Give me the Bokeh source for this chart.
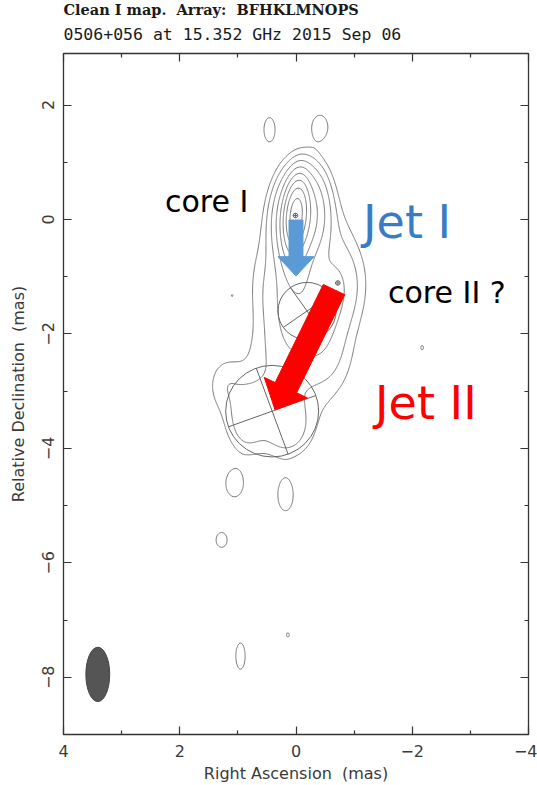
import numpy as np
from bokeh.plotting import figure
from bokeh.models import LinearAxis, FixedTicker, Label, Range1d, Title
from bokeh.embed import file_html
from bokeh.resources import INLINE

# ---------------------------------------------------------------- axes
ra_range = (4.0, -4.0)
dec_range = (-9.0, 2.9)
ra_major = [4, 2, 0, -2, -4]
ra_minor = [3, 1, -1, -3]
dec_major = [2, 0, -2, -4, -6, -8]
dec_minor = [1, -1, -3, -5, -7]
ra_tick_labels = ["4", "2", "0", "\u22122", "\u22124"]
dec_tick_labels = ["2", "0", "\u22122", "\u22124", "\u22126", "\u22128"]

# ---------------------------------------------------------------- restoring beam (mas)
beam_x, beam_y = 3.41, -7.95
beam_fwhm_ra, beam_fwhm_dec = 0.41, 0.95

# ---------------------------------------------------------------- brightness features
# beam-convolved elliptical Gaussians, amplitude as fraction of map peak,
# tilt in degrees (positive leans the top towards negative RA)
feat_name = ["core", "core wing", "core halo", "inner jet", "jet west", "knot NE",
             "C2", "bridge", "bridge NE", "C3 base", "C3 east", "C3 west", "lobe east"]
feat_x   = [0.00, -0.08, -0.50, 0.00, 0.38, -0.72, -0.20, 0.05, -0.55, 0.40, 0.85, 0.15, 1.22]
feat_y   = [0.07, 0.07, -0.20, -0.65, -1.00, -1.05, -1.60, -2.30, -2.50, -3.25, -3.55, -3.70, -2.85]
feat_amp = [0.85, 0.15, 0.006, 0.050, 0.008, 0.015, 0.030, 0.008, 0.006, 0.012, 0.010, 0.010, 0.006]
feat_sx  = [0.10, 0.24, 0.30, 0.16, 0.30, 0.30, 0.40, 0.50, 0.30, 0.55, 0.20, 0.25, 0.20]
feat_sy  = [0.30, 0.45, 0.40, 0.38, 0.60, 0.50, 0.50, 0.40, 0.45, 0.50, 0.35, 0.30, 0.30]
feat_tilt = [5.0, 4.0, 0.0, 0.0, 0.0, 0.0, 0.0, 0.0, 0.0, 0.0, 0.0, 0.0, 0.0]

# isolated low-level islands (noise peaks)
isl_x  = [0.456, -0.413, 1.058, 0.180, 1.280, 0.955, 0.140, -2.170, 1.100]
isl_y  = [1.570, 1.620, -4.620, -4.820, -5.600, -7.630, -7.260, -2.240, -1.330]
isl_amp = [0.0082, 0.0078, 0.0082, 0.0082, 0.0082, 0.0082, 0.0056, 0.0056, 0.0052]
isl_sx = [0.095, 0.14, 0.146, 0.13, 0.095, 0.08, 0.05, 0.05, 0.03]
isl_sy = [0.21, 0.21, 0.225, 0.27, 0.13, 0.23, 0.08, 0.08, 0.03]

contour_levels = [0.005, 0.01, 0.02, 0.04, 0.08, 0.16, 0.32, 0.64]

# ---------------------------------------------------------------- model-fit components
comp_x = [0.01, -0.72, -0.19, 0.41]
comp_y = [0.07, -1.11, -1.60, -3.35]
comp_fwhm = [0.08, 0.08, 1.00, 1.60]
comp_pa = [0.0, 0.0, 35.0, 20.0]  # orientation of the cross, degrees

# ---------------------------------------------------------------- annotation arrows
# (tail x, tail y, tip x, tip y, shaft half-width, head half-width, head length)
blue_arrow = (0.0, -0.01, 0.0, -0.99, 0.12, 0.31, 0.34)
red_arrow = (-0.654, -1.225, 0.361, -3.327, 0.205, 0.413, 0.43)

# ---------------------------------------------------------------- labels
notes = ["core I", "Jet I", "core II ?", "Jet II"]
note_x = [2.255, -1.153, -1.583, -1.36]
note_y = [0.306, -0.04, -1.285, -3.206]
note_color = ["#000000", "#3a7cc4", "#000000", "#ff0000"]
note_size = ["30px", "46px", "30px", "46px"]

title_line_1 = "Clean I map.\u00a0 Array:\u00a0 BFHKLMNOPS"
title_line_2 = "0506+056 at 15.352 GHz 2015 Sep 06"
ra_label = "Right Ascension\u00a0 (mas)"
dec_label = "Relative Declination\u00a0 (mas)"

# ---------------------------------------------------------------- figure
p = figure(width=537, height=785, output_backend="svg", toolbar_location=None,
           x_range=Range1d(*ra_range), y_range=Range1d(*dec_range),
           min_border_left=63, min_border_right=9, min_border_top=53,
           min_border_bottom=44, background_fill_color="white",
           border_fill_color="white")
p.grid.visible = False
p.outline_line_color = "#333333"
p.outline_line_width = 1.3

axis_color = "#333333"
tick_style = dict(major_tick_in=8, major_tick_out=0, minor_tick_in=4, minor_tick_out=0,
                  major_tick_line_color=axis_color, minor_tick_line_color=axis_color,
                  axis_line_color=axis_color, major_tick_line_width=1.2,
                  minor_tick_line_width=1.2)

xa = p.xaxis[0]
xa.ticker = FixedTicker(ticks=ra_major, minor_ticks=ra_minor)
xa.major_label_overrides = dict(zip(ra_major, ra_tick_labels))
xa.axis_label = ra_label
for k, v in tick_style.items():
    setattr(xa, k, v)
xa.major_label_text_font = "DejaVu Sans"
xa.major_label_text_font_size = "16px"
xa.major_label_text_color = "#3a3a3a"
xa.major_label_standoff = 10
xa.axis_label_text_font = "DejaVu Sans"
xa.axis_label_text_font_size = "16px"
xa.axis_label_text_font_style = "normal"
xa.axis_label_text_color = "#3a3a3a"
xa.axis_label_standoff = 4

ya = p.yaxis[0]
ya.ticker = FixedTicker(ticks=dec_major, minor_ticks=dec_minor)
ya.major_label_overrides = dict(zip(dec_major, dec_tick_labels))
ya.axis_label = dec_label
for k, v in tick_style.items():
    setattr(ya, k, v)
ya.major_label_orientation = "vertical"
ya.major_label_text_font = "DejaVu Sans"
ya.major_label_text_font_size = "16px"
ya.major_label_text_color = "#3a3a3a"
ya.major_label_standoff = 9
ya.axis_label_text_font = "DejaVu Sans"
ya.axis_label_text_font_size = "16px"
ya.axis_label_text_font_style = "normal"
ya.axis_label_text_color = "#3a3a3a"
ya.axis_label_standoff = 12

# tick marks along the top and right edges of the frame (no labels)
top_axis = LinearAxis(ticker=FixedTicker(ticks=ra_major, minor_ticks=ra_minor),
                      major_label_text_font_size="0px", major_label_standoff=0, **tick_style)
right_axis = LinearAxis(ticker=FixedTicker(ticks=dec_major, minor_ticks=dec_minor),
                        major_label_text_font_size="0px", major_label_standoff=0, **tick_style)
p.add_layout(top_axis, "above")
p.add_layout(right_axis, "right")

# header: second line just above the frame, first line on top
p.add_layout(Title(text=title_line_2, align="left", text_font="DejaVu Sans Mono",
                   text_font_style="normal", text_font_size="16.5px",
                   text_color="#1a1a1a", standoff=20), "above")
p.title.text = title_line_1
p.title.align = "left"
p.title.text_font = "DejaVu Serif"
p.title.text_font_size = "14.5px"
p.title.text_font_style = "bold"
p.title.text_color = "#1a1a1a"
p.title.standoff = -11

# ---------------------------------------------------------------- brightness map + contours
gx = np.linspace(ra_range[1], ra_range[0], 481)
gy = np.linspace(dec_range[0], dec_range[1], 715)
X, Y = np.meshgrid(gx, gy)
Z = np.zeros_like(X)
all_x = feat_x + isl_x
all_y = feat_y + isl_y
all_a = feat_amp + isl_amp
all_sx = feat_sx + isl_sx
all_sy = feat_sy + isl_sy
all_t = feat_tilt + [0.0] * len(isl_x)
for fx, fy, a, sx, sy, tilt in zip(all_x, all_y, all_a, all_sx, all_sy, all_t):
    t = np.deg2rad(tilt)
    dx, dy = X - fx, Y - fy
    u = dx * np.cos(t) + dy * np.sin(t)
    v = -dx * np.sin(t) + dy * np.cos(t)
    Z += a * np.exp(-0.5 * ((u / sx) ** 2 + (v / sy) ** 2))

p.contour(gx, gy, Z, levels=contour_levels, line_color="#777777", line_width=1.0)

# model-fit component circles with crosses
p.ellipse(x=comp_x, y=comp_y, width=comp_fwhm, height=comp_fwhm, fill_color=None,
          line_color="#666666", line_width=1.0)
sx0, sy0, sx1, sy1 = [], [], [], []
for cx, cy, fw, pa in zip(comp_x, comp_y, comp_fwhm, comp_pa):
    r = fw / 2.0
    t = np.deg2rad(pa)
    for ux, uy in ((np.sin(t), np.cos(t)), (np.cos(t), -np.sin(t))):
        sx0.append(cx - r * ux); sy0.append(cy - r * uy)
        sx1.append(cx + r * ux); sy1.append(cy + r * uy)
p.segment(x0=sx0, y0=sy0, x1=sx1, y1=sy1, line_color="#666666", line_width=1.0)

# restoring beam
p.ellipse(x=[beam_x], y=[beam_y], width=[beam_fwhm_ra], height=[beam_fwhm_dec],
          fill_color="#555555", line_color="#444444", line_width=1.0)


def arrow_outline(spec):
    x0, y0, x1, y1, w, hw, hl = spec
    L = np.hypot(x1 - x0, y1 - y0)
    ux, uy = (x1 - x0) / L, (y1 - y0) / L
    nx, ny = -uy, ux
    bx, by = x1 - ux * hl, y1 - uy * hl
    xs = [x0 + nx * w, bx + nx * w, bx + nx * hw, x1, bx - nx * hw, bx - nx * w, x0 - nx * w]
    ys = [y0 + ny * w, by + ny * w, by + ny * hw, y1, by - ny * hw, by - ny * w, y0 - ny * w]
    return xs, ys


bxs, bys = arrow_outline(blue_arrow)
p.patch(bxs, bys, fill_color="#5b9bd5", line_color="#5b9bd5", line_width=1)
rxs, rys = arrow_outline(red_arrow)
p.patch(rxs, rys, fill_color="#ff0000", line_color="#ff0000", line_width=1)

for t, x, y, c, s in zip(notes, note_x, note_y, note_color, note_size):
    p.add_layout(Label(x=x, y=y, text=t, text_color=c, text_font_size=s,
                       text_font="DejaVu Sans", text_align="left",
                       text_baseline="alphabetic"))

open("out.html", "w").write(file_html(p, INLINE))
